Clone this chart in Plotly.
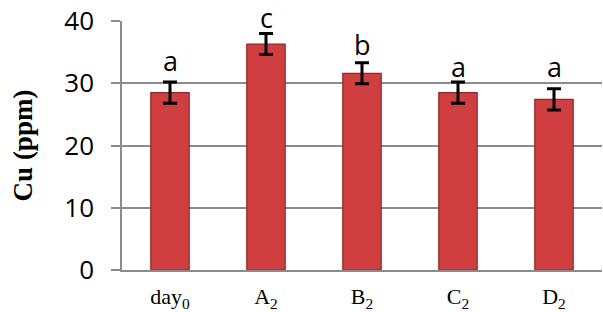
import plotly.graph_objects as go

categories = ["day<sub>0</sub>", "A<sub>2</sub>", "B<sub>2</sub>", "C<sub>2</sub>", "D<sub>2</sub>"]
values = [28.5, 36.3, 31.6, 28.5, 27.4]
errors = [1.7, 1.7, 1.7, 1.7, 1.7]
letters = ["a", "c", "b", "a", "a"]
letter_y = [32.0, 38.8, 34.5, 31.0, 31.0]
y_ticks = [0, 10, 20, 30, 40]

fig = go.Figure()
fig.add_trace(go.Bar(
    x=categories, y=values,
    width=0.4,
    marker=dict(color="#CF3F41", line=dict(color="#952727", width=1.2)),
    error_y=dict(type="data", array=errors, visible=True, color="black", thickness=3, width=7),
))

for c, ly, l in zip(categories, letter_y, letters):
    fig.add_annotation(x=c, y=ly, text=l, showarrow=False, yanchor="bottom", yshift=-10,
                       font=dict(family="Open Sans, Liberation Sans, sans-serif", size=27, color="black"))

fig.update_layout(
    width=603, height=312,
    margin=dict(l=122, r=1, t=21, b=42),
    plot_bgcolor="white", paper_bgcolor="white",
    showlegend=False,
)
fig.update_yaxes(
    range=[0, 40], tickvals=y_ticks,
    showgrid=True, gridcolor="#8C8C8C", gridwidth=1.5,
    showline=True, linecolor="#8C8C8C", linewidth=1.5,
    ticks="outside", ticklen=9, tickcolor="#8C8C8C", tickwidth=1.5,
    ticklabelstandoff=12,
    tickfont=dict(family="Open Sans, Liberation Sans, sans-serif", size=26, color="black"),
    title=dict(text="<b>Cu (ppm)</b>", font=dict(family="Liberation Serif, Times New Roman, serif", size=27, color="black"), standoff=24),
    zeroline=False,
)
fig.update_xaxes(
    showline=True, linecolor="#8C8C8C", linewidth=1.5,
    ticks="", ticklabelstandoff=6,
    tickfont=dict(family="Liberation Serif, Times New Roman, serif", size=22, color="black"),
)

fig.write_html("out.html", config={"displayModeBar": False},
               post_script="document.body.style.margin='0';document.body.style.overflow='hidden';")
